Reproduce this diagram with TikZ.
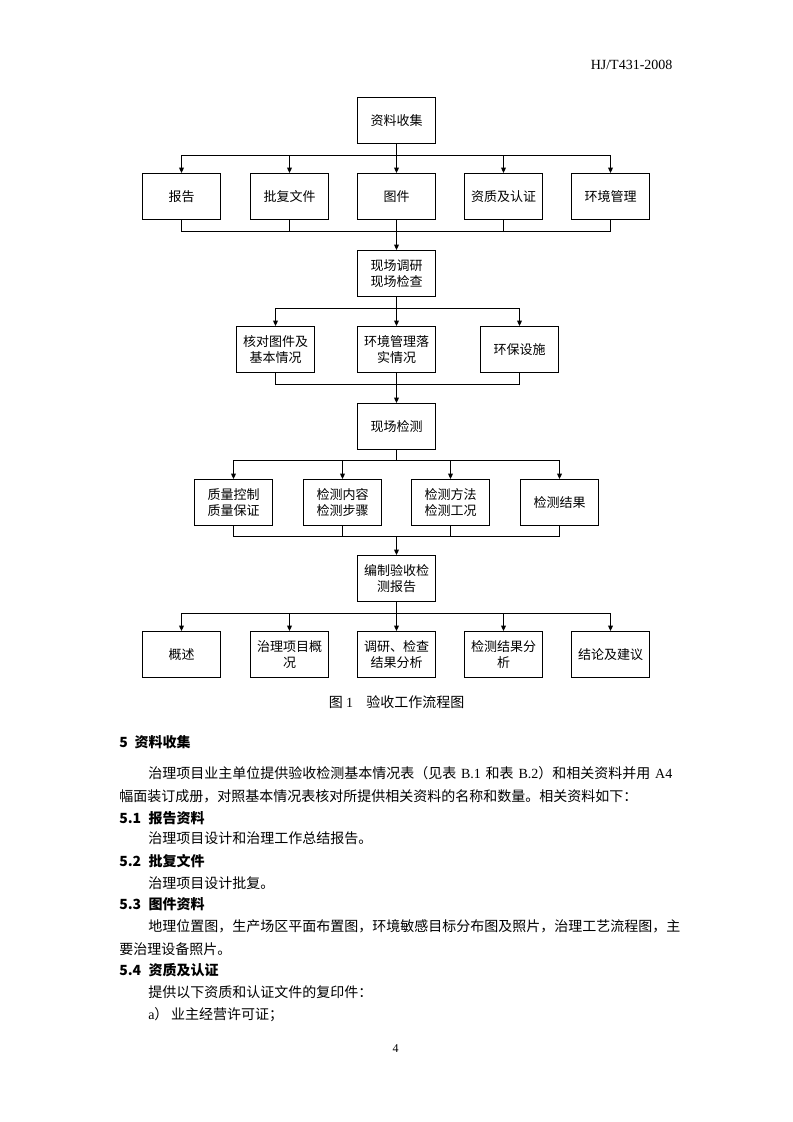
\documentclass[tikz,border=0pt]{standalone}
\usepackage{fontspec}
\setmainfont{Liberation Serif}
\newfontfamily\cjk{Noto Sans CJK SC}
\usetikzlibrary{arrows.meta}
\begin{document}
\begin{tikzpicture}[x=0.75pt,y=-0.75pt,
  box/.style={draw,line width=0.85pt,minimum width=58.5pt,minimum height=34.5pt,inner sep=1pt,align=center,font=\cjk\fontsize{9.75pt}{12.5pt}\selectfont},
  link/.style={line width=0.75pt},
  arr/.style={link,-{Triangle[length=4pt,width=3.6pt]}},
  body/.style={anchor=west,inner sep=0pt,font=\cjk\fontsize{10.5pt}{14pt}\selectfont},
  head/.style={anchor=west,inner sep=0pt,font=\cjk\bfseries\fontsize{10.5pt}{14pt}\selectfont}]
\fill[white] (0,0) rectangle (793,1122);
\useasboundingbox (0,0) rectangle (793,1122);

% header
\node[anchor=east,inner sep=0pt,font=\fontsize{10.5pt}{12pt}\selectfont] (hdr) at (672.7,65) {HJ/T431-2008};

% flow chart nodes
\node[box] (top) at (396.5,120.5) {资料收集};
\node[box] (r1a) at (181.5,196.5) {报告};
\node[box] (r1b) at (289.5,196.5) {批复文件};
\node[box] (r1c) at (396.5,196.5) {图件};
\node[box] (r1d) at (503.5,196.5) {资质及认证};
\node[box] (r1e) at (610.5,196.5) {环境管理};
\node[box] (survey) at (396.5,273.5) {现场调研\\现场检查};
\node[box] (r3a) at (275.5,349.5) {核对图件及\\基本情况};
\node[box] (r3b) at (396.5,349.5) {环境管理落\\实情况};
\node[box] (r3c) at (519.5,349.5) {环保设施};
\node[box] (detect) at (396.5,426.5) {现场检测};
\node[box] (r4a) at (233.5,502.5) {质量控制\\质量保证};
\node[box] (r4b) at (342.5,502.5) {检测内容\\检测步骤};
\node[box] (r4c) at (450.5,502.5) {检测方法\\检测工况};
\node[box] (r4d) at (559.5,502.5) {检测结果};
\node[box] (report) at (396.5,578.5) {编制验收检\\测报告};
\node[box] (r5a) at (181.5,654.5) {概述};
\node[box] (r5b) at (289.5,654.5) {治理项目概\\况};
\node[box] (r5c) at (396.5,654.5) {调研、检查\\结果分析};
\node[box] (r5d) at (503.5,654.5) {检测结果分\\析};
\node[box] (r5e) at (610.5,654.5) {结论及建议};

% bus / merge coordinates
\coordinate (bus1) at (396.5,155.5);
\coordinate (m1) at (396.5,231.5);
\coordinate (bus2) at (396.5,308.5);
\coordinate (m2) at (396.5,384.5);
\coordinate (bus3) at (396.5,460.5);
\coordinate (m3) at (396.5,536.5);
\coordinate (bus4) at (396.5,613.5);

% connectors
\foreach \n in {r1a,r1b,r1c,r1d,r1e}
  \draw[arr] (top.south) |- (\n.north |- bus1) -- (\n.north);
\foreach \n in {r1a,r1b,r1c,r1d,r1e}
  \draw[link] (\n.south) |- (m1);
\draw[arr] (m1) -- (survey.north);
\foreach \n in {r3a,r3b,r3c}
  \draw[arr] (survey.south) |- (\n.north |- bus2) -- (\n.north);
\foreach \n in {r3a,r3b,r3c}
  \draw[link] (\n.south) |- (m2);
\draw[arr] (m2) -- (detect.north);
\foreach \n in {r4a,r4b,r4c,r4d}
  \draw[arr] (detect.south) |- (\n.north |- bus3) -- (\n.north);
\foreach \n in {r4a,r4b,r4c,r4d}
  \draw[link] (\n.south) |- (m3);
\draw[arr] (m3) -- (report.north);
\foreach \n in {r5a,r5b,r5c,r5d,r5e}
  \draw[arr] (report.south) |- (\n.north |- bus4) -- (\n.north);

% caption
\node[body] (cap) at (328.5,701.7) {图\hspace{2.5pt}{\rmfamily 1}\hspace{10pt}验收工作流程图};

% body text
\node[head] (h5) at (119,741.7) {\makebox[11.5pt][l]{5}资料收集};
\node[body] (p1) at (148,773.3) {\makebox[393pt][s]{治理项目业主单位提供验收检测基本情况表（见表 {\rmfamily B.1} 和表 {\rmfamily B.2}）和相关资料并用 {\rmfamily A4}}};
\node[body] (p2) at (119,796) {幅面装订成册，对照基本情况表核对所提供相关资料的名称和数量。相关资料如下：};
\node[head] (h51) at (119,817.7) {\makebox[22pt][l]{5.1}报告资料};
\node[body] (t51) at (148,838.3) {治理项目设计和治理工作总结报告。};
\node[head] (h52) at (119,861) {\makebox[22pt][l]{5.2}批复文件};
\node[body] (t52) at (148,883) {治理项目设计批复。};
\node[head] (h53) at (119,904.5) {\makebox[22pt][l]{5.3}图件资料};
\node[body] (t53a) at (148,926.7) {地理位置图，生产场区平面布置图，环境敏感目标分布图及照片，治理工艺流程图，主};
\node[body] (t53b) at (119,949) {要治理设备照片。};
\node[head] (h54) at (119,970) {\makebox[22pt][l]{5.4}资质及认证};
\node[body] (t54) at (148,991.7) {提供以下资质和认证文件的复印件：};
\node[body] (ta) at (148,1014.3) {{\rmfamily a}）\hspace{2pt}业主经营许可证；};
\node[inner sep=0pt,font=\fontsize{9pt}{10pt}\selectfont] (pg) at (395.7,1048.3) {4};
\end{tikzpicture}
\end{document}
